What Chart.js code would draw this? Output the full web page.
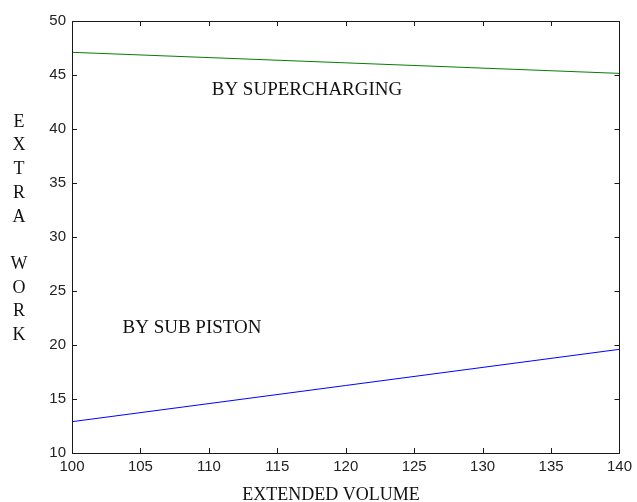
<!DOCTYPE html>
<html>
<head>
<meta charset="utf-8">
<script src="https://cdn.jsdelivr.net/npm/chart.js@4/dist/chart.umd.min.js"></script>
<style>
  html, body { margin: 0; padding: 0; background: #fff; }
  #c { display: block; }
</style>
</head>
<body>
<canvas id="c" width="637" height="502"></canvas>
<script>
// data
const volume = [100, 140];
const bySupercharging = [47.1, 45.15];
const bySubPiston = [12.9, 19.6];
const xTicks = [100, 105, 110, 115, 120, 125, 130, 135, 140];
const yTicks = [10, 15, 20, 25, 30, 35, 40, 45, 50];
const yLabelLetters = ['E', 'X', 'T', 'R', 'A', '', 'W', 'O', 'R', 'K'];

const serif = '"Liberation Serif", "Times New Roman", serif';
const sans = '"Liberation Sans", Arial, sans-serif';

// box + inward tick marks + texts
const decoPlugin = {
  id: 'deco',
  afterDraw(chart) {
    const ctx = chart.ctx;
    const a = chart.chartArea;
    const xs = chart.scales.x, ys = chart.scales.y;
    ctx.save();
    ctx.strokeStyle = '#1a1a1a';
    ctx.lineWidth = 1;
    ctx.strokeRect(Math.round(a.left) + 0.5, Math.round(a.top) + 0.5,
      Math.round(a.right - a.left), Math.round(a.bottom - a.top));
    const t = 5;
    ctx.beginPath();
    xTicks.forEach(v => {
      const px = Math.round(xs.getPixelForValue(v)) + 0.5;
      ctx.moveTo(px, a.bottom); ctx.lineTo(px, a.bottom - t);
      ctx.moveTo(px, a.top); ctx.lineTo(px, a.top + t);
    });
    yTicks.forEach(v => {
      const py = Math.round(ys.getPixelForValue(v)) + 0.5;
      ctx.moveTo(a.left, py); ctx.lineTo(a.left + t, py);
      ctx.moveTo(a.right, py); ctx.lineTo(a.right - t, py);
    });
    ctx.stroke();

    ctx.fillStyle = '#111';
    ctx.textAlign = 'center';
    ctx.textBaseline = 'middle';
    ctx.font = '19px ' + serif;
    ctx.fillText('BY SUPERCHARGING', 307, 90);
    ctx.fillText('BY SUB PISTON', 192, 328);

    ctx.font = '18px ' + serif;
    yLabelLetters.forEach((ch, i) => {
      if (ch) ctx.fillText(ch, 19, 122 + i * 23.7);
    });

    ctx.textBaseline = 'alphabetic';
    ctx.fillText('EXTENDED VOLUME', 331, 500);
    ctx.restore();
  }
};

new Chart(document.getElementById('c'), {
  type: 'line',
  data: {
    datasets: [
      {
        label: 'By supercharging',
        data: volume.map((v, i) => ({ x: v, y: bySupercharging[i] })),
        borderColor: '#008000',
        borderWidth: 1,
        pointRadius: 0,
        fill: false
      },
      {
        label: 'By sub piston',
        data: volume.map((v, i) => ({ x: v, y: bySubPiston[i] })),
        borderColor: '#0000ff',
        borderWidth: 1,
        pointRadius: 0,
        fill: false
      }
    ]
  },
  options: {
    responsive: false,
    animation: false,
    layout: { padding: { top: 21, right: 15, left: 0, bottom: 0 } },
    plugins: {
      legend: { display: false },
      tooltip: { enabled: false }
    },
    scales: {
      x: {
        type: 'linear',
        min: 100,
        max: 140,
        afterFit: s => { s.height = 49; },
        afterBuildTicks: s => { s.ticks = xTicks.map(v => ({ value: v })); },
        grid: { display: false, drawTicks: false },
        border: { display: false },
        ticks: { padding: 5, color: '#222', font: { family: sans, size: 15 }, maxRotation: 0, autoSkip: false }
      },
      y: {
        type: 'linear',
        min: 10,
        max: 50,
        afterFit: s => { s.width = 72; },
        afterBuildTicks: s => { s.ticks = yTicks.map(v => ({ value: v })); },
        grid: { display: false, drawTicks: false },
        border: { display: false },
        ticks: { padding: 6, color: '#222', font: { family: sans, size: 15 }, autoSkip: false }
      }
    }
  },
  plugins: [decoPlugin]
});
</script>
</body>
</html>
